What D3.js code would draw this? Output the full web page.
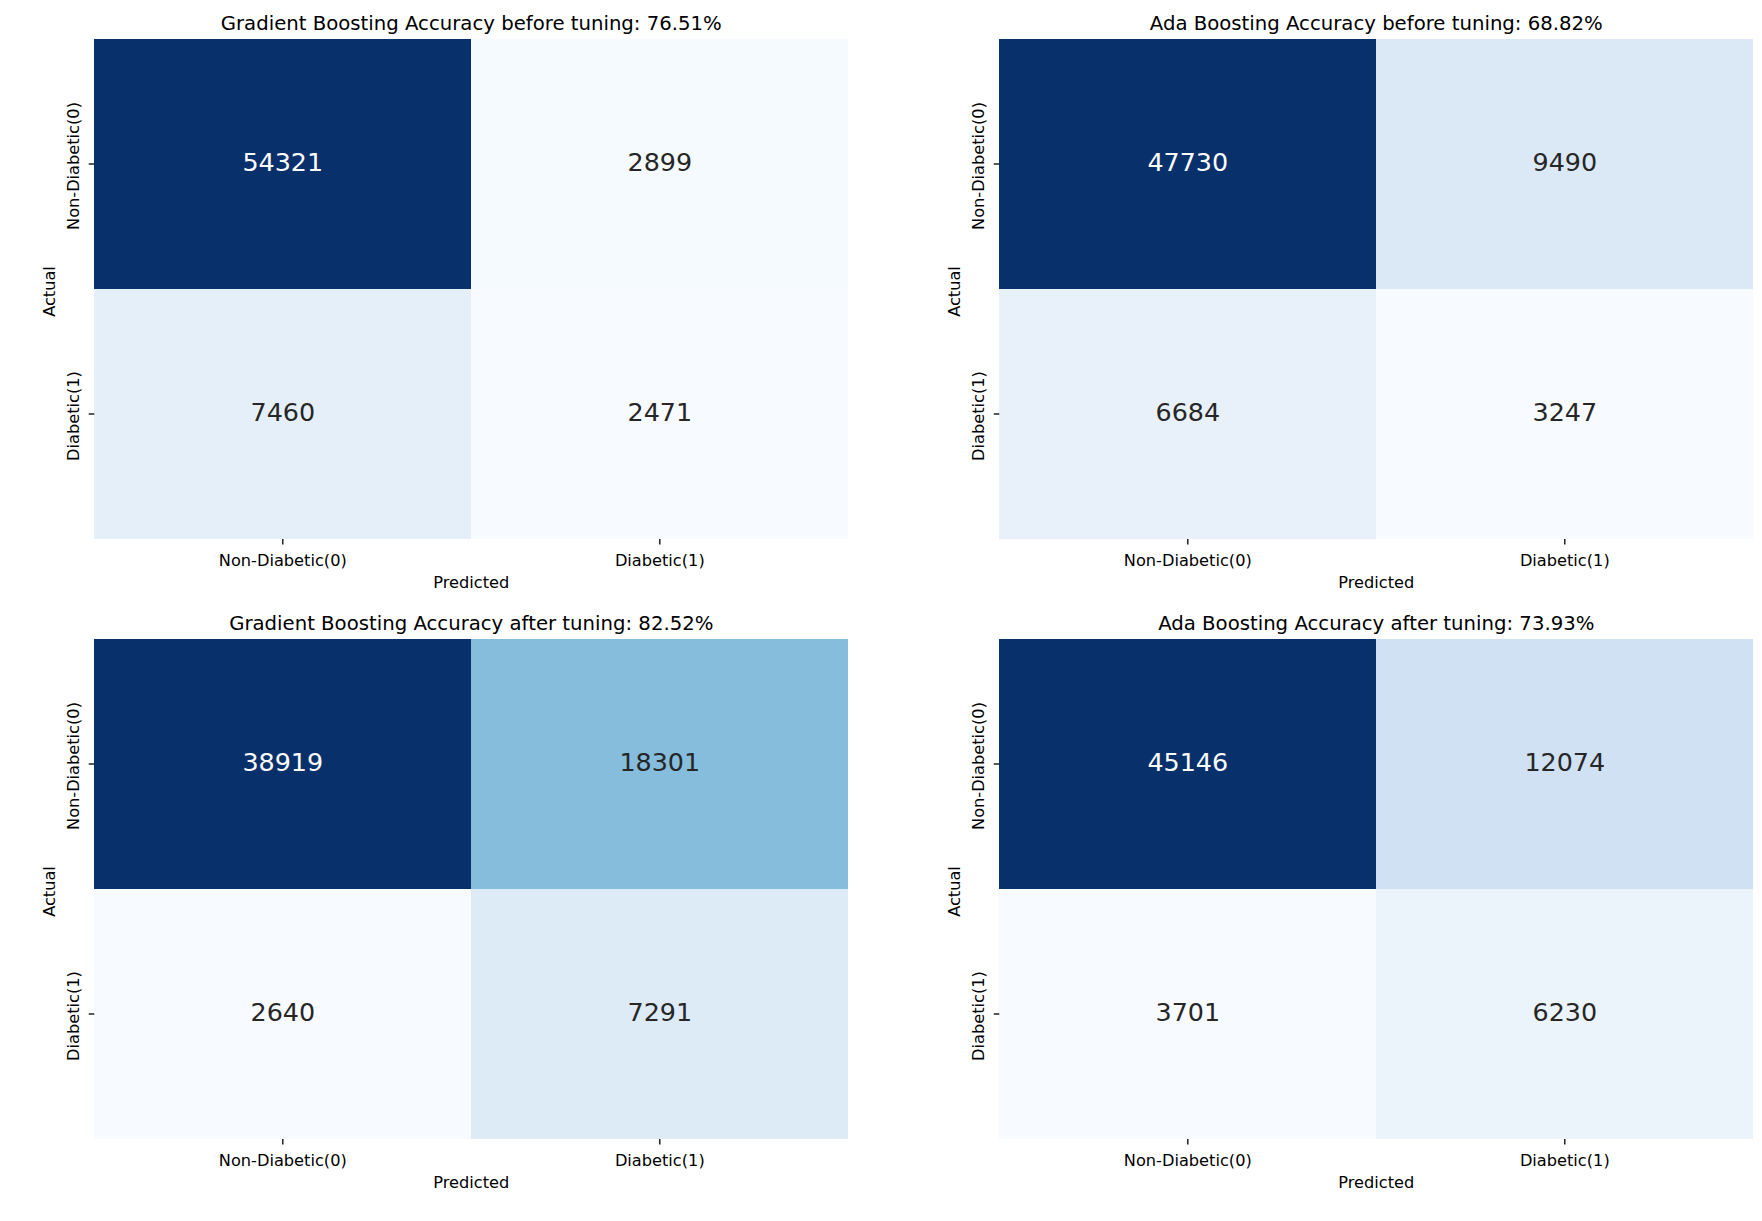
<!DOCTYPE html>
<html>
<head>
<meta charset="utf-8">
<script src="https://cdn.jsdelivr.net/npm/d3@7"></script>
<style>
  html, body { margin: 0; padding: 0; background: #ffffff; }
  svg { display: block; font-family: "DejaVu Sans", sans-serif; }
</style>
</head>
<body>
<svg id="chart" width="1762" height="1221"></svg>
<script>
// ---- data ----
const classLabels = ["Non-Diabetic(0)", "Diabetic(1)"];
const titles = [
  "Gradient Boosting Accuracy before tuning: 76.51%",
  "Ada Boosting Accuracy before tuning: 68.82%",
  "Gradient Boosting Accuracy after tuning: 82.52%",
  "Ada Boosting Accuracy after tuning: 73.93%"
];
const gbBefore  = [[54321, 2899], [7460, 2471]];
const adaBefore = [[47730, 9490], [6684, 3247]];
const gbAfter   = [[38919, 18301], [2640, 7291]];
const adaAfter  = [[45146, 12074], [3701, 6230]];
const matrices = [gbBefore, adaBefore, gbAfter, adaAfter];
const xLabel = "Predicted";
const yLabel = "Actual";

// ---- matplotlib "Blues" (linear over ColorBrewer stops) ----
const bluesStops = ["#f7fbff","#deebf7","#c6dbef","#9ecae1","#6baed6","#4292c6","#2171b5","#08519c","#08306b"];
const blues = d3.scaleLinear()
  .domain(bluesStops.map((_, i) => i / (bluesStops.length - 1)))
  .range(bluesStops)
  .interpolate(d3.interpolateRgb)
  .clamp(true);

function relLum(c) {
  const rgb = d3.rgb(c);
  const f = v => { v /= 255; return v <= 0.03928 ? v / 12.92 : Math.pow((v + 0.055) / 1.055, 2.4); };
  return 0.2126 * f(rgb.r) + 0.7152 * f(rgb.g) + 0.0722 * f(rgb.b);
}

// ---- layout ----
const colX = [94.3, 999.3];
const rowY = [39, 639];
const W = 754, H = 500;
const tickFs = 16.2, titleFs = 19.7, annotFs = 25.4;

const svg = d3.select("#chart");

matrices.forEach((m, idx) => {
  const ox = colX[idx % 2], oy = rowY[Math.floor(idx / 2)];
  const g = svg.append("g").attr("transform", `translate(${ox},${oy})`);

  const x = d3.scaleBand().domain(classLabels).range([0, W]);
  const y = d3.scaleBand().domain(classLabels).range([0, H]);
  const flat = m.flat();
  const norm = d3.scaleLinear().domain(d3.extent(flat)).range([0, 1]);

  const cells = [];
  m.forEach((row, i) => row.forEach((v, j) => cells.push({ r: classLabels[i], c: classLabels[j], v })));

  g.selectAll("rect.cell").data(cells).join("rect")
    .attr("class", "cell")
    .attr("x", d => x(d.c))
    .attr("y", d => y(d.r))
    .attr("width", x.bandwidth())
    .attr("height", y.bandwidth())
    .attr("fill", d => blues(norm(d.v)))
    .attr("shape-rendering", "crispEdges");

  g.selectAll("text.annot").data(cells).join("text")
    .attr("class", "annot")
    .attr("x", d => x(d.c) + x.bandwidth() / 2)
    .attr("y", d => y(d.r) + y.bandwidth() / 2 + 7.0)
    .attr("text-anchor", "middle")
    .attr("font-size", annotFs)
    .attr("fill", d => relLum(blues(norm(d.v))) > 0.408 ? "#262626" : "#ffffff")
    .text(d => d.v);

  // x axis
  const xa = g.append("g").attr("transform", `translate(0,${H})`)
    .call(d3.axisBottom(x).tickSize(5.6).tickPadding(0));
  xa.select(".domain").remove();
  xa.selectAll(".tick line").attr("stroke", "#000").attr("stroke-width", 1.3);
  xa.selectAll(".tick text")
    .attr("y", 26.5).attr("dy", null)
    .attr("font-size", tickFs).attr("fill", "#000")
    .attr("font-family", "DejaVu Sans");

  // y axis
  const ya = g.append("g").call(d3.axisLeft(y).tickSize(5.6).tickPadding(0));
  ya.select(".domain").remove();
  ya.selectAll(".tick line").attr("stroke", "#000").attr("stroke-width", 1.3);
  ya.selectAll(".tick text")
    .attr("x", null).attr("dy", null)
    .attr("text-anchor", "middle")
    .attr("transform", "translate(-15,2) rotate(-90)")
    .attr("font-size", tickFs).attr("fill", "#000")
    .attr("font-family", "DejaVu Sans");

  // axis labels
  g.append("text")
    .attr("x", W / 2).attr("y", H + 49)
    .attr("text-anchor", "middle").attr("font-size", tickFs).attr("fill", "#000")
    .text(xLabel);
  g.append("text")
    .attr("transform", `translate(-39.3,${H / 2 + 2.5}) rotate(-90)`)
    .attr("text-anchor", "middle").attr("font-size", tickFs).attr("fill", "#000")
    .text(yLabel);

  // title
  g.append("text")
    .attr("x", W / 2).attr("y", -9)
    .attr("text-anchor", "middle").attr("font-size", titleFs).attr("fill", "#000")
    .text(titles[idx]);
});
</script>
</body>
</html>
